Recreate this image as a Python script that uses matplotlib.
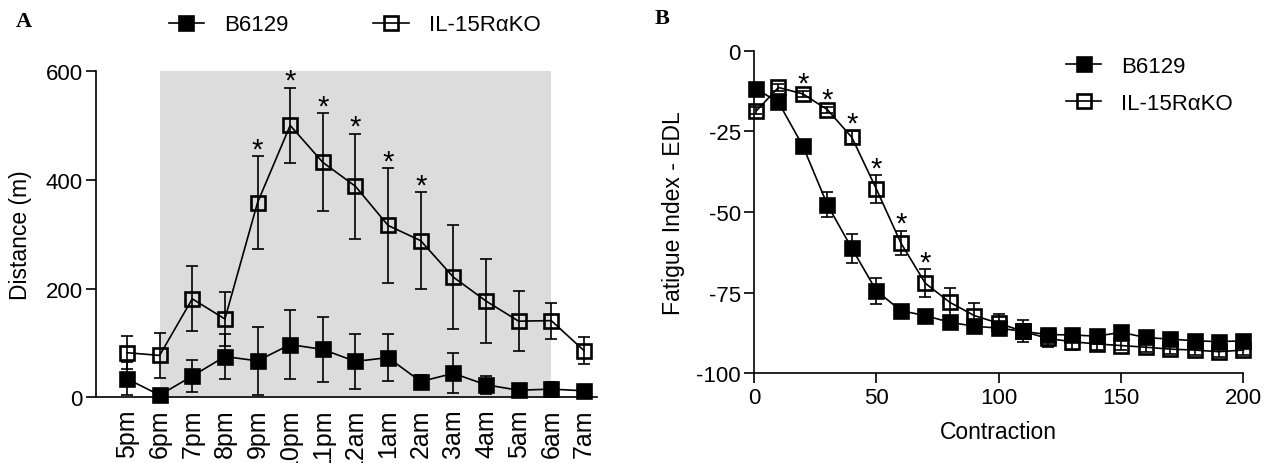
import numpy as np
import matplotlib
matplotlib.use("Agg")
import matplotlib.pyplot as plt

plt.rcParams['font.family'] = ['Liberation Sans', 'DejaVu Sans']
plt.rcParams['axes.unicode_minus'] = False

# Panel A: running distance per hour
hours = ['5pm', '6pm', '7pm', '8pm', '9pm', '10pm', '11pm', '12am',
         '1am', '2am', '3am', '4am', '5am', '6am', '7am']
wt_dist = [34, 4, 39, 75, 67, 97, 88, 66, 73, 29, 44, 23, 13, 15, 12]
wt_dist_err = [30, 0, 30, 42, 62, 63, 59, 50, 43, 12, 37, 17, 6, 14, 5]
ko_dist = [82, 77, 181, 144, 358, 500, 432, 388, 316, 288, 221, 177, 140, 141, 86]
ko_dist_err = [30, 42, 60, 50, 85, 69, 90, 96, 105, 89, 95, 78, 55, 33, 24]
sig_hours = ['9pm', '10pm', '11pm', '12am', '1am', '2am']
dark_start, dark_end = '6pm', '6am'

# Panel B: fatigue index of EDL
contraction = [1, 10, 20, 30, 40, 50, 60, 70, 80, 90, 100,
               110, 120, 130, 140, 150, 160, 170, 180, 190, 200]
wt_fat = [-11.9, -16.0, -29.6, -47.8, -61.3, -74.4, -80.6, -82.1, -84.2, -85.4, -86.0,
          -87.0, -88.0, -88.1, -88.5, -87.3, -88.9, -89.4, -89.9, -90.2, -89.9]
wt_fat_err = [1, 1.5, 2, 3.9, 4.6, 4, 1.5, 1, 1, 1, 1.5,
              1.5, 1.5, 1.5, 1.5, 1.5, 1, 1, 1, 1, 1]
ko_fat = [-18.6, -11.4, -13.4, -18.3, -26.9, -42.9, -59.6, -72.1, -78.0, -82.1, -84.5,
          -87.0, -89.2, -90.2, -90.9, -91.4, -91.9, -92.5, -92.8, -93.3, -92.8]
ko_fat_err = [1, 1, 1, 1, 2, 4.3, 3.7, 4.3, 4.5, 3.9, 3,
              3.4, 2.5, 2.5, 2, 1.5, 1.5, 1.5, 1.5, 1.5, 1.5]
sig_contr = [20, 30, 40, 50, 60, 70]

lab_wt = 'B6129'
lab_ko = 'IL-15R\u03b1KO'

fig = plt.figure(figsize=(12.78, 4.64), dpi=100)
axA = fig.add_axes([0.0751, 0.1416, 0.392, 0.7032])
axB = fig.add_axes([0.590, 0.1933, 0.383, 0.6953])

ms = 9.5
mew = 1.9
lw = 1.2
cap = 4.5


def style_axes(ax):
    for s in ['top', 'right']:
        ax.spines[s].set_visible(False)
    for s in ['left', 'bottom']:
        ax.spines[s].set_linewidth(1.2)
    ax.tick_params(width=1.2, length=7.5, labelsize=16, pad=2)


# ---- A ----
x = np.arange(len(hours))
axA.axvspan(hours.index(dark_start), hours.index(dark_end), color='#dcdcdc', zorder=0, lw=0)
axA.errorbar(x, wt_dist, yerr=wt_dist_err, fmt='none', ecolor='black', elinewidth=lw,
             capsize=cap, capthick=lw, zorder=2, clip_on=False)
la, = axA.plot(x, wt_dist, '-s', color='black', lw=lw, ms=ms, mfc='black', mec='black',
               mew=mew, zorder=3, clip_on=False, label=lab_wt)
axA.errorbar(x, ko_dist, yerr=ko_dist_err, fmt='none', ecolor='black', elinewidth=lw,
             capsize=cap, capthick=lw, zorder=4, clip_on=False)
lb, = axA.plot(x, ko_dist, '-s', color='black', lw=lw, ms=ms, mfc='none', mec='black',
               mew=mew, zorder=5, clip_on=False, label=lab_ko)
for h in sig_hours:
    i = hours.index(h)
    axA.text(i, ko_dist[i] + ko_dist_err[i] + 13, '*', ha='center', va='center', fontsize=21)

style_axes(axA)
axA.set_xlim(-0.95, 14.4)
axA.set_ylim(0, 600)
axA.set_yticks([0, 200, 400, 600])
axA.set_xticks(x)
axA.set_xticklabels(hours, rotation=90, fontsize=18)
axA.tick_params(axis='x', length=0, pad=8)
axA.set_ylabel('Distance (m)', fontsize=16.5)
axA.yaxis.set_label_coords(-0.128, 0.5)
fig.legend(handles=[la, lb], loc='center left', bbox_to_anchor=(0.132, 0.944), ncol=2,
           frameon=False, fontsize=16, handlelength=1.6, handletextpad=0.9,
           columnspacing=3.8, borderpad=0, borderaxespad=0)
fig.text(0.012, 0.953, 'A', family='Liberation Serif', fontweight='bold', fontsize=16,
         va='center')

# ---- B ----
axB.errorbar(contraction, wt_fat, yerr=wt_fat_err, fmt='none', ecolor='black', elinewidth=lw,
             capsize=cap, capthick=lw, zorder=2, clip_on=False)
lc, = axB.plot(contraction, wt_fat, '-s', color='black', lw=lw, ms=ms, mfc='black', mec='black',
               mew=mew, zorder=3, clip_on=False, label=lab_wt)
axB.errorbar(contraction, ko_fat, yerr=ko_fat_err, fmt='none', ecolor='black', elinewidth=lw,
             capsize=cap, capthick=lw, zorder=4, clip_on=False)
ld, = axB.plot(contraction, ko_fat, '-s', color='black', lw=lw, ms=ms, mfc='none', mec='black',
               mew=mew, zorder=5, clip_on=False, label=lab_ko)
for c in sig_contr:
    i = contraction.index(c)
    axB.text(c, ko_fat[i] + ko_fat_err[i] + 2.2, '*', ha='center', va='center', fontsize=21)

style_axes(axB)
axB.set_xlim(0, 200)
axB.set_ylim(-100, 0)
axB.set_xticks([0, 50, 100, 150, 200])
axB.set_yticks([0, -25, -50, -75, -100])
axB.set_xlabel('Contraction', fontsize=16.5, labelpad=9)
axB.set_ylabel('Fatigue Index - EDL', fontsize=16.5)
axB.yaxis.set_label_coords(-0.141, 0.5)
axB.legend(handles=[lc, ld], loc='upper left', bbox_to_anchor=(0.834, 0.878),
           bbox_transform=fig.transFigure, frameon=False, fontsize=16, handlelength=1.6,
           handletextpad=0.9, labelspacing=0.75, borderpad=0, borderaxespad=0)
fig.text(0.512, 0.958, 'B', family='Liberation Serif', fontweight='bold', fontsize=16,
         va='center')

fig.savefig('out.png', dpi=100)
